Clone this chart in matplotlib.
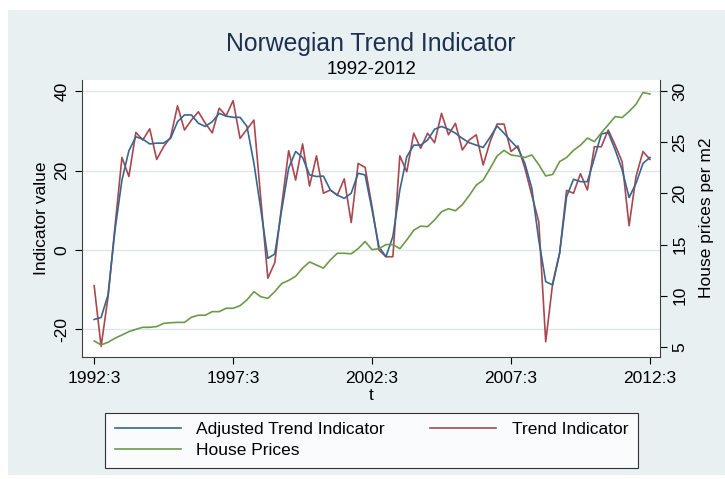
import matplotlib
matplotlib.use("Agg")
import matplotlib.pyplot as plt
from matplotlib.patches import Rectangle
import numpy as np

plt.rcParams['font.family'] = ['Liberation Sans', 'DejaVu Sans']

# ---------------- data (quarterly, 1992:3 .. 2012:3) ----------------
tick_labels = ["1992:3", "1997:3", "2002:3", "2007:3", "2012:3"]
tick_quarters = [0, 20, 40, 60, 80]

adjusted_trend = [
    -17.5, -17.0, -11.3, 5.0, 17.6, 25.0, 28.5, 27.9, 26.7, 26.9, 26.9, 28.1, 32.3,
    34.0, 34.0, 31.9, 31.1, 32.3, 34.4, 33.7, 33.4, 33.4, 31.1, 21.8, 10.1,
    -2.1, -1.0, 10.1, 20.6, 24.8, 23.3, 18.9, 18.5, 18.6, 15.1, 13.8, 13.0, 14.3,
    19.3, 18.9, 10.1, 0.8, -1.7, 3.4, 15.1, 23.5, 26.4, 26.4, 27.7, 30.4, 31.1, 30.4,
    29.4, 28.1, 27.0, 26.4, 25.8, 28.4, 31.2, 29.4, 27.4, 25.6, 21.8, 15.5, 2.5,
    -8.0, -8.8, -0.8, 13.4, 17.8, 17.2, 17.2, 23.1, 29.2, 29.6, 25.2, 20.2, 13.2,
    16.8, 21.8, 23.3,
]

trend = [
    -9.0, -24.3, -11.8, 5.9, 23.3, 18.5, 29.6, 27.7, 30.5, 22.8, 26.0, 28.4, 36.3,
    30.2, 32.7, 34.8, 31.9, 29.5, 35.7, 33.8, 37.6, 28.1, 30.4, 32.7, 12.6,
    -7.1, -3.2, 11.3, 25.0, 17.6, 26.7, 16.1, 23.7, 14.3, 15.1, 13.8, 17.9, 6.9,
    21.8, 20.8, 10.9, 0.0, -1.7, -1.7, 23.7, 19.7, 29.4, 25.6, 29.4, 27.0, 34.4, 29.0,
    31.9, 25.2, 27.7, 29.0, 21.4, 27.3, 31.7, 31.7, 24.8, 26.2, 20.6, 13.8, 7.1,
    -23.1, -8.4, -0.8, 15.0, 14.3, 19.2, 15.1, 26.0, 26.0, 30.2, 26.4, 22.2, 6.1,
    18.5, 24.8, 22.8,
]

house_prices = [
    5.59, 5.2, 5.46, 5.85, 6.17, 6.5, 6.72, 6.92, 6.92, 6.99, 7.3, 7.37, 7.4,
    7.4, 7.9, 8.1, 8.1, 8.45, 8.45, 8.78, 8.78, 9.03, 9.6,
    10.4, 9.9, 9.75, 10.4, 11.2, 11.5, 11.9, 12.7, 13.3, 13.0, 12.7, 13.5, 14.15,
    14.15, 14.1, 14.6, 15.3, 14.5, 14.6, 15.0, 15.0, 14.6, 15.45, 16.4, 16.8, 16.75,
    17.4, 18.2, 18.5,
    18.3, 18.9, 19.8, 20.8, 21.3, 22.45, 23.65, 24.2, 23.75, 23.65, 23.5, 23.75,
    22.8, 21.7, 21.85, 23.1, 23.5, 24.2, 24.7, 25.4, 25.05, 25.9, 26.7, 27.5, 27.4,
    28.0, 28.7, 29.85, 29.7,
]

left_ticks = [-20, 0, 20, 40]
right_ticks = [5, 10, 15, 20, 25, 30]

t = np.arange(len(trend))

# ---------------- styling ----------------
W, H = 725, 479
BG = '#E8F0F2'
GRID = '#DCE7EB'
C_ADJ = '#36678F'
C_TR = '#A9474F'
C_HP = '#6C9A4A'
AX_COL = '#404040'

fig = plt.figure(figsize=(W / 100, H / 100), dpi=100)
fig.patch.set_facecolor('white')
fig.patches.append(Rectangle((8 / W, 4 / H), 1 - 8 / W, (H - 14) / H,
                             transform=fig.transFigure, facecolor=BG,
                             edgecolor='none', zorder=-10))

ax = fig.add_axes([82 / W, 1 - 357 / H, (660 - 82) / W, (357 - 80) / H])
ax.set_facecolor('white')
ax2 = ax.twinx()

l1, = ax.plot(t, adjusted_trend, color=C_ADJ, lw=1.2, zorder=3)
l2, = ax.plot(t, trend, color=C_TR, lw=1.2, zorder=2)
l3, = ax2.plot(t, house_prices, color=C_HP, lw=1.2)

ax.set_xlim(-1.75, 81.45)
ax.set_ylim(-26.95, 42.8)
ax2.set_ylim(4.02, 31.07)

ax.set_yticks(left_ticks)
ax.set_yticklabels([str(v) for v in left_ticks], rotation=90, va='center')
ax2.set_yticks(right_ticks)
ax2.set_yticklabels([str(v) for v in right_ticks], rotation=90, va='center')
ax.set_xticks(tick_quarters)
ax.set_xticklabels(tick_labels)

ax.yaxis.grid(True, color=GRID, lw=1.0)
ax.set_axisbelow(True)

for a in (ax, ax2):
    a.spines['top'].set_visible(False)
    for s in ('left', 'right', 'bottom'):
        a.spines[s].set_color(AX_COL)
        a.spines[s].set_linewidth(0.8)
    a.tick_params(colors='black', length=5, width=0.8, labelsize=12.5, pad=4)
    for tl in a.get_yticklabels():
        tl.set_color('black')

ax.tick_params(axis='x', pad=5)
ax.spines['right'].set_visible(False)
ax2.spines['left'].set_visible(False)
ax2.spines['bottom'].set_visible(False)

# titles and labels
fig.text(371 / W, 1 - 44 / H, 'Norwegian Trend Indicator', ha='center', va='center',
         fontsize=17.8, color='#1E3050')
fig.text(372 / W, 1 - 70 / H, '1992-2012', ha='center', va='center', fontsize=13.5,
         color='black')
fig.text(42 / W, 1 - 218 / H, 'Indicator value', rotation=90, ha='center', va='center',
         fontsize=12.5)
fig.text(706 / W, 1 - 218 / H, 'House prices per m2', rotation=90, ha='center',
         va='center', fontsize=12.5)
fig.text(371 / W, 1 - 395 / H, 't', ha='center', va='center', fontsize=12.5)

leg = fig.legend([l1, l3, l2], ['Adjusted Trend Indicator', 'House Prices', 'Trend Indicator'],
                 ncol=2, loc='lower left', mode='expand',
                 bbox_to_anchor=(105 / W, 1 - 468 / H, (638 - 105) / W, (468 - 410) / H),
                 borderaxespad=0, fontsize=12.5, frameon=True, fancybox=False,
                 handlelength=3.8, handletextpad=0.9, labelspacing=0.35,
                 borderpad=0.55, columnspacing=2.0)
leg.get_frame().set_edgecolor('black')
leg.get_frame().set_linewidth(0.8)
leg.get_frame().set_facecolor('white')

fig.savefig('out.png', dpi=100, facecolor=fig.get_facecolor())
